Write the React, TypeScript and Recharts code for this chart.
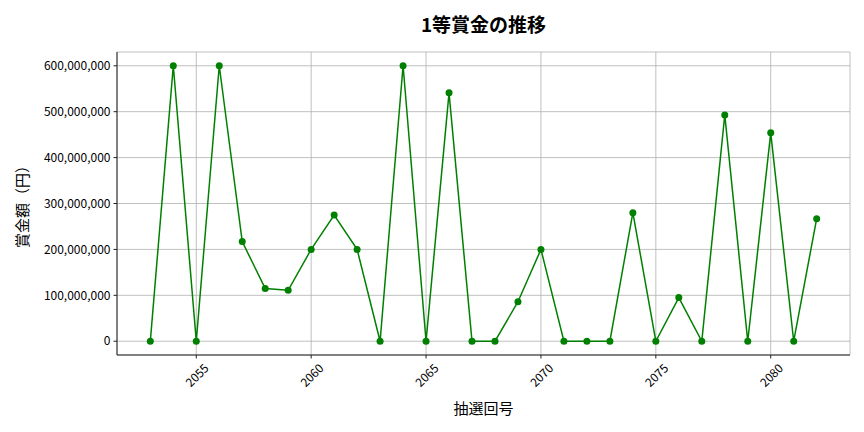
import { LineChart, Line, XAxis, YAxis, CartesianGrid } from 'recharts';

const rounds = [
  2053, 2054, 2055, 2056, 2057, 2058, 2059, 2060, 2061, 2062,
  2063, 2064, 2065, 2066, 2067, 2068, 2069, 2070, 2071, 2072,
  2073, 2074, 2075, 2076, 2077, 2078, 2079, 2080, 2081, 2082,
];

const prizes = [
  0, 600000000, 0, 600000000, 217000000, 115000000, 111000000, 200000000, 275000000, 200000000,
  0, 600000000, 0, 541000000, 0, 0, 86000000, 200000000, 0, 0,
  0, 280000000, 0, 95000000, 0, 493000000, 0, 454000000, 0, 267000000,
];

const xTicks = [2055, 2060, 2065, 2070, 2075, 2080];
const yTicks = [0, 100000000, 200000000, 300000000, 400000000, 500000000, 600000000];

const data = rounds.map((r, i) => ({ round: r, prize: prizes[i] }));

const FONT = '"Noto Sans CJK JP", "Noto Sans", sans-serif';

const RotatedTick = (props: any) => {
  const { x, y, payload } = props;
  const cy = y + 16;
  return (
    <text
      x={x}
      y={cy}
      textAnchor="middle"
      dominantBaseline="central"
      fontSize={12}
      fontFamily={FONT}
      fill="#000"
      transform={`rotate(-45, ${x}, ${cy})`}
    >
      {payload.value}
    </text>
  );
};

export default function App() {
  return (
    <div style={{ position: 'absolute', left: 0, top: 0, width: 864, height: 432, background: '#fff', fontFamily: FONT }}>
      <div
        style={{
          position: 'absolute',
          left: 117,
          width: 733,
          top: 10,
          textAlign: 'center',
          fontSize: 19,
          fontWeight: 'bold',
          lineHeight: '28px',
          color: '#000',
        }}
      >
        1等賞金の推移
      </div>
      <div
        style={{
          position: 'absolute',
          left: 117,
          width: 733,
          top: 396,
          textAlign: 'center',
          fontSize: 15,
          lineHeight: '24px',
          color: '#000',
        }}
      >
        抽選回号
      </div>
      <div
        style={{
          position: 'absolute',
          left: 22,
          top: 203,
          transform: 'translate(-50%, -50%) rotate(-90deg)',
          whiteSpace: 'nowrap',
          fontSize: 15,
          lineHeight: '20px',
          color: '#000',
        }}
      >
        賞金額（円）
      </div>
      <LineChart
        width={864}
        height={432}
        data={data}
        margin={{ top: 52, right: 14, left: 0, bottom: 0 }}
        style={{ position: 'absolute', left: 0, top: 0 }}
      >
        <CartesianGrid stroke="#b0b0b0" strokeWidth={0.8} />
        <XAxis
          dataKey="round"
          type="number"
          domain={[2051.55, 2083.45]}
          ticks={xTicks}
          allowDataOverflow
          height={77}
          tickSize={3.5}
          tickMargin={0}
          stroke="#222"
          tick={<RotatedTick />}
        />
        <XAxis
          xAxisId="top"
          dataKey="round"
          type="number"
          orientation="top"
          domain={[2051.55, 2083.45]}
          height={0}
          tick={false}
          tickLine={false}
          stroke="#222"
        />
        <YAxis
          type="number"
          domain={[-30000000, 630000000]}
          ticks={yTicks}
          allowDataOverflow
          width={117}
          tickSize={3.5}
          tickMargin={3}
          stroke="#222"
          tick={{ fill: '#000', fontSize: 12, fontFamily: FONT }}
          tickFormatter={(v: number) => v.toLocaleString('en-US')}
        />
        <YAxis
          yAxisId="right"
          type="number"
          orientation="right"
          domain={[-30000000, 630000000]}
          width={0}
          tick={false}
          tickLine={false}
          stroke="#222"
        />
        <Line
          type="linear"
          dataKey="prize"
          stroke="#008000"
          strokeWidth={1.5}
          dot={{ r: 3.5, fill: '#008000', stroke: '#008000', strokeWidth: 0 }}
          activeDot={false}
          isAnimationActive={false}
        />
      </LineChart>
    </div>
  );
}
